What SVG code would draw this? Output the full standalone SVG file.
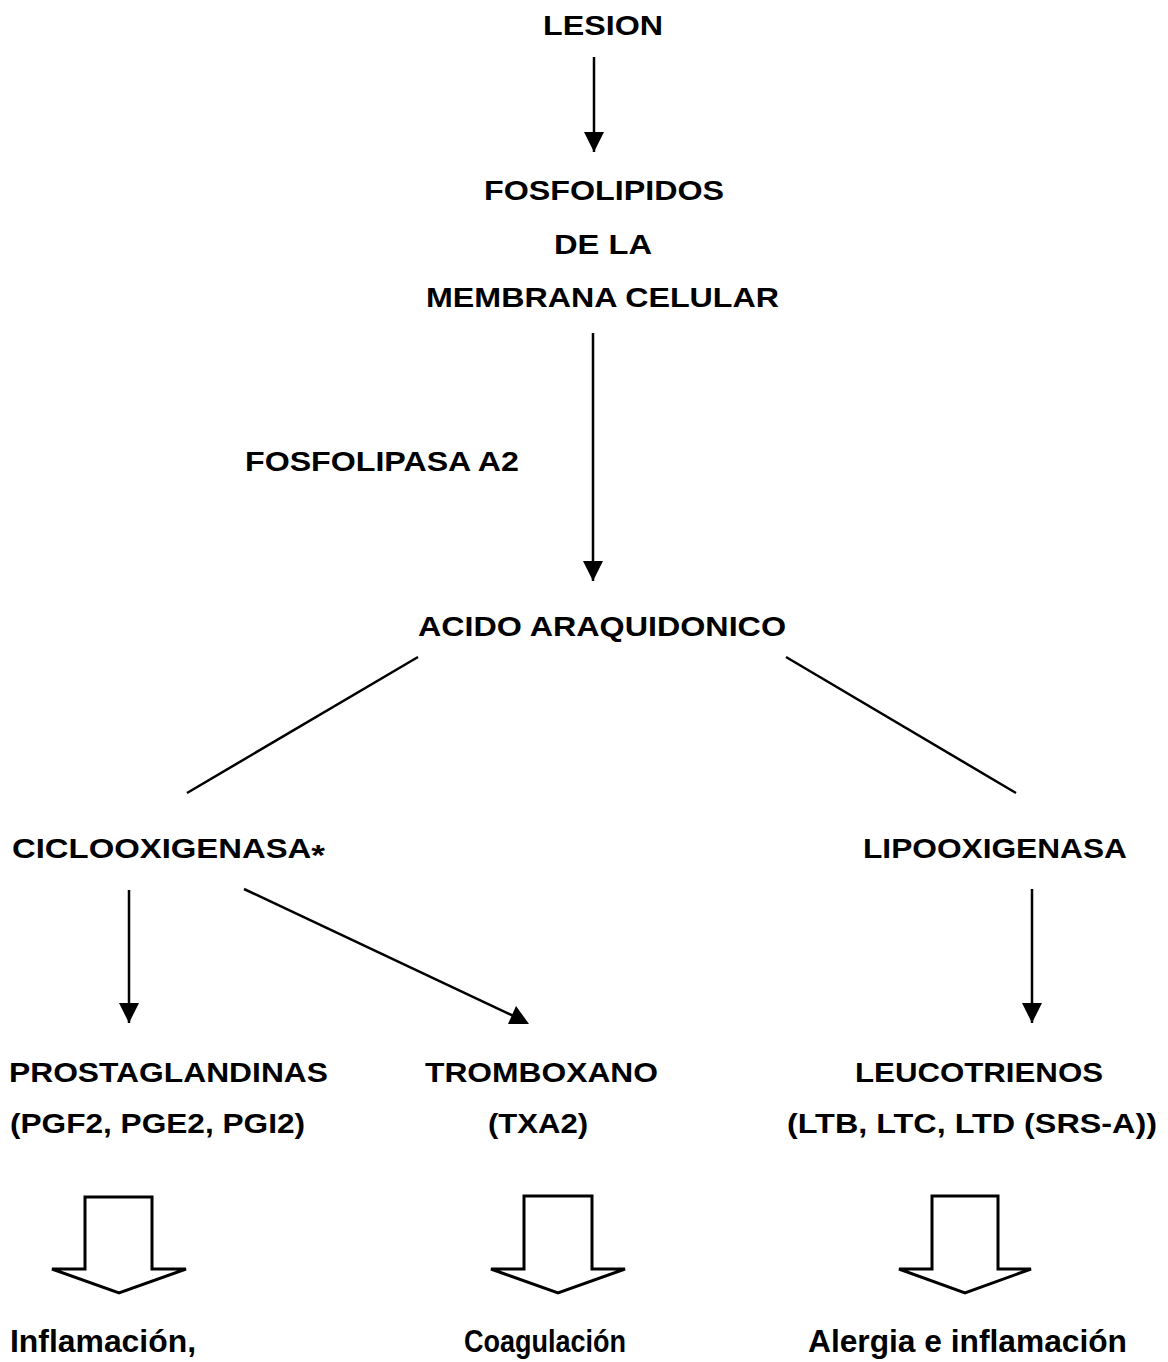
<svg xmlns="http://www.w3.org/2000/svg" width="1168" height="1362" viewBox="0 0 1168 1362">
<style>
  .t { font-family: "Liberation Sans", Arial, sans-serif; font-weight: bold; font-size: 28px; fill: #000; }
  .b { font-size: 31px; }
  .ln { stroke: #000; stroke-width: 2.5; fill: none; }
  .blk { stroke: #000; stroke-width: 3; fill: #fff; stroke-linejoin: miter; }
  .hd { fill: #000; }
</style>
<defs>
  <marker id="ah" viewBox="0 0 20 20" refX="20" refY="10" markerWidth="20" markerHeight="20" markerUnits="userSpaceOnUse" orient="auto">
    <path d="M0,0 L20,10 L0,20 z" fill="#000"/>
  </marker>
</defs>
<rect width="1168" height="1362" fill="#fff"/>

<g id="connectors">
  <line class="ln" x1="594" y1="57" x2="594" y2="152" marker-end="url(#ah)"/>
  <line class="ln" x1="593" y1="333" x2="593" y2="581" marker-end="url(#ah)"/>
  <line class="ln" x1="418" y1="657" x2="187" y2="793"/>
  <line class="ln" x1="786" y1="657" x2="1016" y2="793"/>
  <line class="ln" x1="129" y1="890" x2="129" y2="1023" marker-end="url(#ah)"/>
  <line class="ln" x1="1032" y1="889" x2="1032" y2="1023" marker-end="url(#ah)"/>
  <line class="ln" x1="244" y1="889" x2="520" y2="1019"/>
  <polygon class="hd" points="508,1024 529,1024 516,1006"/>
  <polygon class="blk" points="85,1197 152,1197 152,1269 186,1269 119,1293 52,1269 85,1269"/>
  <polygon class="blk" points="524,1196 592,1196 592,1269 625,1269 558,1293 491,1269 524,1269"/>
  <polygon class="blk" points="932,1196 998,1196 998,1269 1031,1269 965,1293 899,1269 932,1269"/>
</g>

<g id="lesion"><text class="t" x="543" y="35" textLength="120" lengthAdjust="spacingAndGlyphs">LESION</text></g>
<g id="fosfolipidos">
  <text class="t" x="484" y="200" textLength="240" lengthAdjust="spacingAndGlyphs">FOSFOLIPIDOS</text>
  <text class="t" x="554" y="254" textLength="98" lengthAdjust="spacingAndGlyphs">DE LA</text>
  <text class="t" x="426" y="307" textLength="353" lengthAdjust="spacingAndGlyphs">MEMBRANA CELULAR</text>
</g>
<g id="fosfolipasa"><text class="t" x="245" y="471" textLength="274" lengthAdjust="spacingAndGlyphs">FOSFOLIPASA A2</text></g>
<g id="acido"><text class="t" x="418" y="636" textLength="368" lengthAdjust="spacingAndGlyphs">ACIDO ARAQUIDONICO</text></g>
<g id="ciclooxigenasa"><text class="t" x="12" y="858" textLength="313" lengthAdjust="spacingAndGlyphs">CICLOOXIGENASA<tspan font-size="30" dy="7">*</tspan></text></g>
<g id="lipooxigenasa"><text class="t" x="863" y="858" textLength="264" lengthAdjust="spacingAndGlyphs">LIPOOXIGENASA</text></g>
<g id="prostaglandinas">
  <text class="t" x="9" y="1082" textLength="319" lengthAdjust="spacingAndGlyphs">PROSTAGLANDINAS</text>
  <text class="t" x="10" y="1133" textLength="295" lengthAdjust="spacingAndGlyphs">(PGF2, PGE2, PGI2)</text>
</g>
<g id="tromboxano">
  <text class="t" x="425" y="1082" textLength="233" lengthAdjust="spacingAndGlyphs">TROMBOXANO</text>
  <text class="t" x="488" y="1133" textLength="100" lengthAdjust="spacingAndGlyphs">(TXA2)</text>
</g>
<g id="leucotrienos">
  <text class="t" x="855" y="1082" textLength="248" lengthAdjust="spacingAndGlyphs">LEUCOTRIENOS</text>
  <text class="t" x="787" y="1133" textLength="370" lengthAdjust="spacingAndGlyphs">(LTB, LTC, LTD (SRS-A))</text>
</g>
<g id="inflamacion"><text class="t b" x="10" y="1352" textLength="186" lengthAdjust="spacingAndGlyphs">Inflamación,</text></g>
<g id="coagulacion"><text class="t b" x="464" y="1352" textLength="162" lengthAdjust="spacingAndGlyphs">Coagulación</text></g>
<g id="alergia"><text class="t b" x="808" y="1352" textLength="319" lengthAdjust="spacingAndGlyphs">Alergia e inflamación</text></g>
</svg>
